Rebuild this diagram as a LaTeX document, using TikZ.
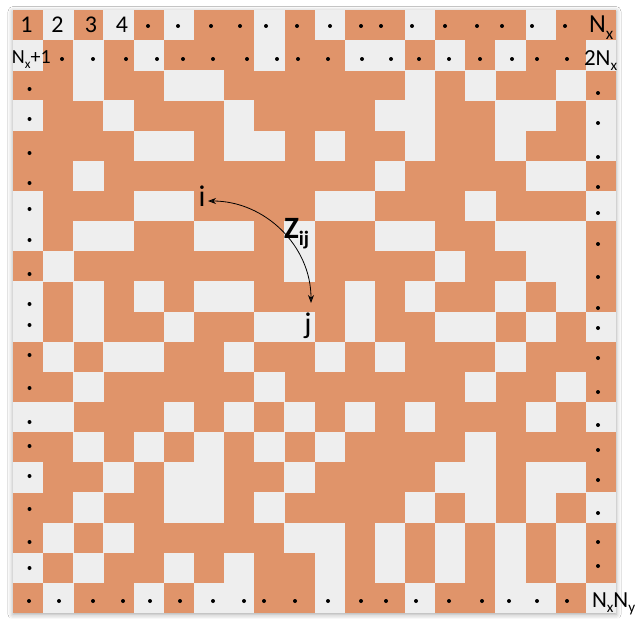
\documentclass[tikz,border=0pt]{standalone}
\usepackage{fontspec}
\setmainfont{Carlito}
\usepackage{graphicx}
\usetikzlibrary{arrows.meta,shadows.blur}
\definecolor{cellorange}{RGB}{224,148,106}
\definecolor{cellgrey}{RGB}{238,238,238}
\newcommand\lowsub[1]{\raisebox{-0.25em}{\scalebox{0.66}{#1}}}
\newcommand\fsz[1]{\fontsize{#1}{#1}\selectfont}
\tikzset{
  lbl/.style={inner sep=0pt, outer sep=0pt, text=black},
  dotmark/.style={fill=black},
  pairarrow/.style={{Stealth[length=8pt,width=6pt]}-{Stealth[length=8pt,width=6pt]}, line width=0.8pt}
}
\begin{document}
\begin{tikzpicture}[x=1pt,y=-1pt]
\useasboundingbox (0,0) rectangle (644,618);
\fill[white] (0,0) rectangle (644,618);
\def\cs{30.15}
\fill[cellorange, blur shadow={shadow xshift=0pt, shadow yshift=-1.5pt, shadow blur radius=5pt, shadow opacity=35}] (13,10) rectangle (616,613);
\foreach \r/\cols in {
 0/{1,3,5,8,10,13,17},
 1/{0,2,4,8,11,12,14,16,19},
 2/{2,5,6,13,15,18},
 3/{0,3,7,12,13,16,17,19},
 4/{4,5,7,8,10,13,16,19},
 5/{2,12,17,18},
 6/{0,4,5,10,11,15,19},
 7/{0,2,3,6,7,9,12,13,16,17,18},
 8/{1,9,14,17,18},
 9/{0,2,4,6,7,11,13,16,18},
 10/{0,2,5,8,9,11,14,15,17,19},
 11/{1,3,4,7,10,12,16},
 12/{2,8,15,18},
 13/{0,1,5,7,9,11,13,17,19},
 14/{2,4,6,8,10,15},
 15/{0,3,5,6,9,14,15,17,18},
 16/{2,5,6,8,13,15,17,19},
 17/{1,3,9,10,12,14,16,18},
 18/{0,2,5,7,10,12,14,16,18},
 19/{1,4,6,7,10,13,16,17,19}}
{
  \foreach \c in \cols {
    \fill[cellgrey] ({13+\c*\cs},{10+\r*\cs}) rectangle ++(\cs+0.2,\cs+0.2);
  }
}
% dots
\foreach \x in {148,178,211,240,266,297,330,361,381,412,445,477,502,532,565}
  \fill[dotmark] (\x,26) circle (2);
\foreach \x in {62,93,126,157,183,213,247,277,298,328,362,391,419,449,480,512,537,567}
  \fill[dotmark] (\x,59) circle (2);
\foreach \x in {29,59,93,123,150,180,213,244,264,295,328,361,386,416,449,482,509,537,567}
  \fill[dotmark] (\x,601) circle (2);
\foreach \y in {89,119,153,183,209,240,274,304,325,355,388,422,446,476,509,542,568}
  \fill[dotmark] (29.5,\y) circle (2);
\foreach \y in {93,123,157,187,213,244,277,308,328,358,392,425,450,480,513,542,566}
  \fill[dotmark] (598,\y) circle (2);
% labels
\node[lbl, anchor=base] (n1) at (26.5,33) {\fsz{24}1};
\node[lbl, anchor=base] (n2) at (57.5,33) {\fsz{24}2};
\node[lbl, anchor=base] (n3) at (91,33) {\fsz{24}3};
\node[lbl, anchor=base] (n4) at (122,33) {\fsz{24}4};
\node[lbl, anchor=base west] (nx) at (589,33) {\fsz{26}N\lowsub{x}};
\node[lbl, anchor=base west] (nx1) at (12,63.5) {\fsz{20}N\lowsub{x}+1};
\node[lbl, anchor=base west] (n2x) at (584,65) {\fsz{23}2N\lowsub{x}};
\node[lbl, anchor=base west] (nxny) at (592,607) {\fsz{23}N\lowsub{x}N\lowsub{y}};
\node[lbl, anchor=base] (i) at (202,206) {\fsz{30}i};
\node[lbl, anchor=base] (j) at (308,333) {\fsz{30}j};
\node[lbl, anchor=base west] (z) at (284,238) {\fsz{31}\bfseries Z\lowsub{ij}};
\coordinate (ia) at (208,201);
\coordinate (ja) at (311,303);
\draw[pairarrow] (ia) .. controls (265,201) and (311,246) .. (ja);
\end{tikzpicture}
\end{document}
